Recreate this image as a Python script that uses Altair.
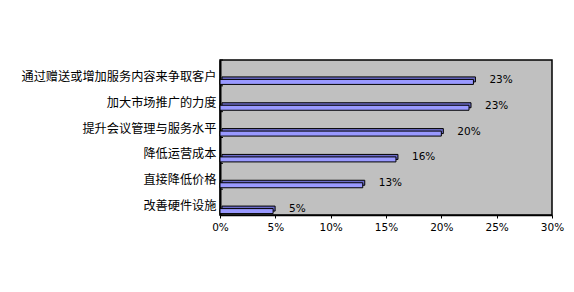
import altair as alt
import pandas as pd

categories = ["通过赠送或增加服务内容来争取客户", "加大市场推广的力度", "提升会议管理与服务水平",
              "降低运营成本", "直接降低价格", "改善硬件设施"]
values = [0.229, 0.225, 0.200, 0.159, 0.129, 0.048]
value_labels = ["23%", "23%", "20%", "16%", "13%", "5%"]
x_ticks = [0, 0.05, 0.10, 0.15, 0.20, 0.25, 0.30]

df = pd.DataFrame({"cat": categories, "val": values, "lab": value_labels})

y_enc = alt.Y("cat:N", sort=categories,
              scale=alt.Scale(paddingInner=0, paddingOuter=0),
              axis=alt.Axis(title=None, labelFont="Noto Sans CJK SC", labelFontSize=12.2,
                            labelColor="black", labelPadding=4, ticks=False, labelOffset=4,
                            domainColor="black", domainWidth=2, labelLimit=400))
x_enc = alt.X("val:Q", scale=alt.Scale(domain=[0, 0.3], nice=False),
              axis=alt.Axis(title=None, values=x_ticks, format=".0%", grid=False,
                            labelFont="DejaVu Sans", labelFontSize=10.5, labelColor="black",
                            tickColor="black", tickSize=3, labelPadding=4,
                            domainColor="black", domainWidth=1.5, labelFlush=False))

base = alt.Chart(df)

back = base.mark_bar(size=5, color="#6b6bc8", stroke="black", strokeWidth=1,
                     xOffset=2, yOffset=6.5).encode(x=x_enc, y=y_enc)
front = base.mark_bar(size=5, color="#9999ff", stroke="black", strokeWidth=1,
                      yOffset=9).encode(x=x_enc, y=y_enc)
labels = base.mark_text(align="left", baseline="middle", dx=16, yOffset=7,
                        font="DejaVu Sans", fontSize=10.5, color="black").encode(
    x=x_enc, y=y_enc, text="lab:N")
ticks = base.mark_rule(color="black", strokeWidth=1).encode(
    y=alt.Y("cat:N", sort=categories, bandPosition=0,
            scale=alt.Scale(paddingInner=0, paddingOuter=0)),
    x=alt.value(0), x2=alt.value(3))

chart = alt.layer(back, front, labels, ticks).properties(
    width=332, height=155,
    autosize=alt.AutoSizeParams(type="none"),
    padding={"left": 220, "top": 60, "right": 22, "bottom": 77},
    background="white",
).configure_view(fill="#c0c0c0", stroke="black", strokeWidth=1.5)

chart.save("out.html", embed_options={"renderer": "svg", "actions": False})
